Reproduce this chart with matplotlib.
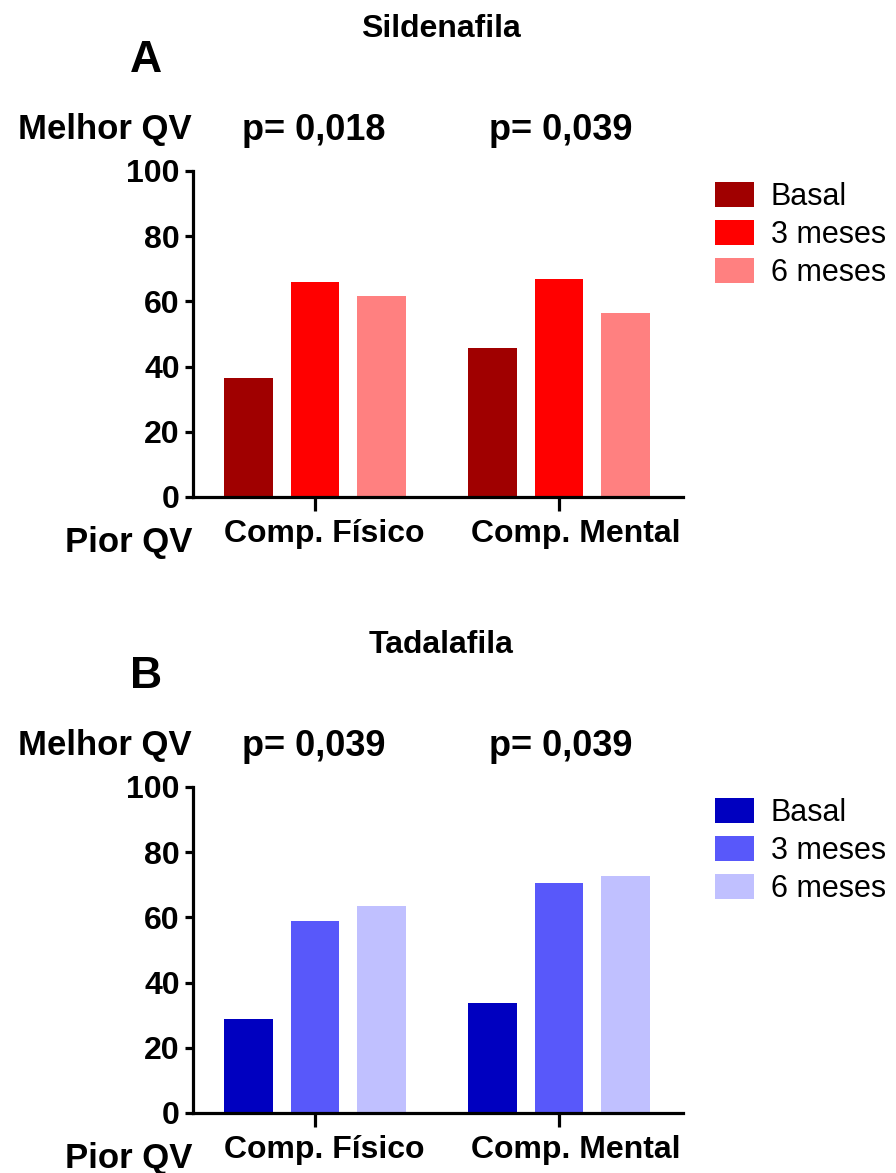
"""
Qualidade de vida (componentes fisico e mental) em basal, 3 e 6 meses,
sildenafila (A) e tadalafila (B). Saves out.png.
"""

import matplotlib

matplotlib.use("Agg")
import matplotlib.pyplot as plt
import matplotlib.transforms as mtransforms
import numpy as np

W, H, DPI = 896, 1173, 100

CATEGORIES = ["Comp. Físico", "Comp. Mental"]
SERIES = ["Basal", "3 meses", "6 meses"]

SILD_VALUES = [
    [36.5, 45.7],  # Basal
    [65.9, 67.0],  # 3 meses
    [61.6, 56.5],  # 6 meses
]
TADA_VALUES = [
    [28.8, 33.6],
    [58.9, 70.6],
    [63.5, 72.8],
]
SILD_P = ["p= 0,018", "p= 0,039"]
TADA_P = ["p= 0,039", "p= 0,039"]
Y_TICKS = [0, 20, 40, 60, 80, 100]

RED = ["#A00000", "#FF0000", "#FF8080"]
BLUE = ["#0000C0", "#5858FA", "#C0C0FF"]

plt.rcParams["font.family"] = ["Liberation Sans", "DejaVu Sans"]
plt.rcParams["font.weight"] = "bold"

fig = plt.figure(figsize=(W / DPI, H / DPI), dpi=DPI)


def fx(px):
    return px / W


def fy(py):
    return 1 - py / H


def panel(top_px, values, colors, title, letter, pvals):
    # axes box in pixels: x 193..683, y top..top+326
    ax = fig.add_axes([fx(193), fy(top_px + 326), fx(490), 326 / H])
    x = np.arange(len(CATEGORIES))
    step, width = 0.2725, 0.198
    for i, (name, vals, col) in enumerate(zip(SERIES, values, colors)):
        ax.bar(x + (i - 1) * step, vals, width, color=col, label=name, zorder=2)

    ax.set_xlim(-0.5, 1.508)
    ax.set_ylim(0, 100)
    ax.set_yticks(Y_TICKS)
    ax.set_xticks(x)
    ax.set_xticklabels([])
    # category labels sit a bit right of their ticks, as in the original
    for xi, lab, dx in zip(x, CATEGORIES, [9, 17]):
        tr = mtransforms.offset_copy(ax.get_xaxis_transform(), fig=fig, x=dx, y=-45, units="dots")
        ax.text(xi, 0, lab, transform=tr, ha="center", va="baseline", fontsize=23, fontweight="bold")
    for lab in ax.get_yticklabels():
        lab.set_fontsize(23)
        lab.set_fontweight("bold")

    for s in ["top", "right"]:
        ax.spines[s].set_visible(False)
    for s in ["left", "bottom"]:
        ax.spines[s].set_linewidth(2.3)
    ax.tick_params(axis="y", length=6, width=2.3, pad=3.5)
    ax.tick_params(axis="x", length=10, width=2.3, pad=6)

    ax.legend(
        loc="upper left",
        bbox_to_anchor=(fx(715), fy(top_px + 11)),
        bbox_transform=fig.transFigure,
        frameon=False,
        borderpad=0,
        borderaxespad=0,
        handlelength=1.27,
        handleheight=0.88,
        handletextpad=0.55,
        labelspacing=0.26,
        prop={"family": "Liberation Sans", "size": 22, "weight": "normal"},
    )

    off = top_px - 171
    fig.text(fx(441), fy(37 + off), title, ha="center", va="baseline", fontsize=23, fontweight="bold")
    fig.text(fx(146), fy(72 + off), letter, ha="center", va="baseline", fontsize=32, fontweight="bold")
    fig.text(fx(18), fy(139 + off), "Melhor QV", ha="left", va="baseline", fontsize=25, fontweight="bold")
    for cx, p in zip([314, 561], pvals):
        fig.text(fx(cx), fy(140 + off), p, ha="center", va="baseline", fontsize=26, fontweight="bold")
    fig.text(fx(65), fy(552 + off), "Pior QV", ha="left", va="baseline", fontsize=25, fontweight="bold")
    return ax


panel(171, SILD_VALUES, RED, "Sildenafila", "A", SILD_P)
panel(787, TADA_VALUES, BLUE, "Tadalafila", "B", TADA_P)

fig.savefig("out.png", dpi=DPI)
